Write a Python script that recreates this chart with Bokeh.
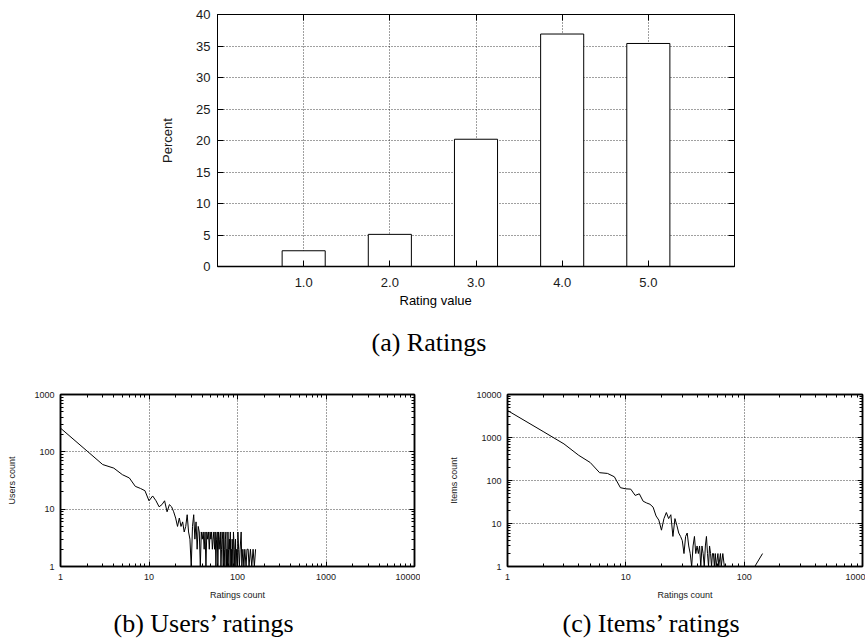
from bokeh.plotting import figure
from bokeh.models import FixedTicker, LinearAxis, LogAxis, Title, Range1d, CustomJSTickFormatter
from bokeh.layouts import column, row
from bokeh.embed import file_html
from bokeh.resources import INLINE

# ---------------- data ----------------
rating_values = [1, 2, 3, 4, 5]
rating_percent = [2.5, 5.1, 20.2, 36.9, 35.4]
rating_tick_labels = ["1.0", "2.0", "3.0", "4.0", "5.0"]
percent_ticks = [0, 5, 10, 15, 20, 25, 30, 35, 40]
percent_tick_labels = ["0", "5", "10", "15", "20", "25", "30", "35", "40"]

users_x = [1, 2, 3, 4, 5, 6, 7, 8, 9, 10, 11, 12, 13, 14, 15, 16, 17, 18, 19, 20,
           21, 22, 23, 24, 25, 26, 27, 28, 29, 30, 31, 32, 33, 34, 35, 36, 37, 38, 39, 40,
           41, 42, 43, 44, 45, 46, 47, 48, 49, 50, 51, 52, 53, 54, 55, 56, 57, 58, 59, 60,
           61, 62, 63, 64, 65, 66, 67, 68, 69, 70, 71, 72, 73, 74, 75, 76, 77, 78, 79, 80,
           81, 82, 83, 84, 85, 86, 87, 88, 89, 90, 92, 93, 95, 96, 98, 100, 101, 103, 105, 107,
           110, 112, 115, 118, 121, 125, 128, 132, 135, 140, 145, 150, 155, 160]
users_y = [259, 103, 60, 52, 40, 35, 25, 23, 21, 14, 17, 14, 11, 12, 14, 9, 12, 11, 9, 7,
           5, 7, 5, 6, 4, 5, 8, 4, 3, 1, 5, 8, 3, 6, 2, 5, 4, 1, 4, 3,
           4, 2, 4, 1, 4, 3, 4, 2, 4, 3, 4, 2, 3, 4, 2, 4, 1, 3, 4, 1,
           4, 2, 3, 4, 1, 2, 4, 3, 1, 4, 2, 1, 3, 4, 1, 2, 1, 4, 2, 1,
           3, 2, 4, 1, 2, 1, 3, 2, 1, 4, 2, 1, 3, 1, 2, 1, 4, 2, 1, 2,
           4, 1, 2, 1, 2, 1, 2, 2, 1, 2, 1, 2, 1, 2]

items_x = [1, 2, 3, 4, 5, 6, 7, 8, 9, 10, 11, 12, 13, 14, 15, 16, 17, 18, 19, 20,
           21, 22, 23, 24, 25, 26, 27, 28, 29, 30, 31, 32, 33, 34, 35, 36, 37, 38, 39, 40,
           41, 42, 43, 44, 45, 46, 47, 48, 49, 50, 51, 52, 53, 54, 55, 56, 57, 58, 60, 61,
           63, 64, 66, 68, 70, 123, 143]
items_y = [4245, 1380, 710, 385, 262, 152, 146, 122, 68, 64, 63, 45, 49, 33, 30, 28, 24, 15, 12, 7,
           13, 18, 13, 16, 5, 13, 9, 6, 5, 4, 2, 5, 6, 3, 2, 1, 3, 5, 2, 3,
           2, 3, 1, 3, 2, 1, 3, 5, 2, 1, 3, 2, 1, 2, 2, 1, 2, 1, 2, 1,
           2, 1, 2, 1, 1, 1, 2]

users_xticks = [1, 10, 100, 1000, 10000]
users_xtick_labels = ["1", "10", "100", "1000", "10000"]
users_yticks = [1, 10, 100, 1000]
users_ytick_labels = ["1", "10", "100", "1000"]
items_xticks = [1, 10, 100, 1000]
items_xtick_labels = ["1", "10", "100", "1000"]
items_yticks = [1, 10, 100, 1000, 10000]
items_ytick_labels = ["1", "10", "100", "1000", "10000"]

SANS = "Liberation Sans"
SERIF = "Liberation Serif"
TXT = "#1a1a1a"


def minor_for(decades):
    out = []
    for d in decades[:-1]:
        for m in range(2, 10):
            out.append(d * m)
    return out


def style_axis(ax, size, major_in, minor_in, standoff, label_standoff, width=1):
    ax.major_tick_in = major_in
    ax.major_tick_out = 0
    ax.minor_tick_in = minor_in
    ax.minor_tick_out = 0
    ax.axis_line_color = "black"
    ax.axis_line_width = width
    ax.major_tick_line_color = "black"
    ax.minor_tick_line_color = "black"
    ax.major_label_text_font = SANS
    ax.major_label_text_font_size = size
    ax.major_label_text_color = TXT
    ax.major_label_standoff = standoff
    ax.axis_label_text_font = SANS
    ax.axis_label_text_font_size = size
    ax.axis_label_text_font_style = "normal"
    ax.axis_label_text_color = TXT
    ax.axis_label_standoff = label_standoff


def add_mirror(p, side, cls, ticks, minor, major_in, minor_in, width=1):
    ax = cls(ticker=FixedTicker(ticks=ticks, minor_ticks=minor),
             formatter=CustomJSTickFormatter(code="return ''"))
    ax.major_tick_in = major_in
    ax.major_tick_out = 0
    ax.minor_tick_in = minor_in
    ax.minor_tick_out = 0
    ax.major_label_text_font_size = "1px"
    ax.major_label_standoff = 0
    ax.axis_line_color = "black"
    ax.axis_line_width = width
    ax.major_tick_line_color = "black"
    ax.minor_tick_line_color = "black"
    p.add_layout(ax, side)


def style_fig(p, width=1):
    p.outline_line_color = "black"
    p.outline_line_width = width
    p.background_fill_color = "white"
    p.border_fill_color = "white"
    for g in (p.xgrid[0], p.ygrid[0]):
        g.grid_line_color = "black"
        g.grid_line_dash = "1 2"
        g.grid_line_width = 1
        g.grid_line_alpha = 0.75


def add_text_below(p, text, offset, font, size, standoff):
    t = Title(text=text, align="left", offset=offset, standoff=standoff,
              vertical_align="bottom", text_font=font, text_font_size=size,
              text_font_style="normal", text_color="black")
    p.add_layout(t, "below")


# ---------------- (a) Ratings ----------------
pa = figure(frame_width=517, frame_height=252,
            min_border_left=217, min_border_right=131, min_border_top=14, min_border_bottom=112,
            x_range=Range1d(0, 6), y_range=Range1d(0, 40),
            output_backend="svg", toolbar_location=None)
style_fig(pa)
pa.vbar(x=rating_values, top=rating_percent, width=0.5,
        fill_color="white", line_color="black", line_width=1)

pa.xaxis.ticker = FixedTicker(ticks=rating_values, minor_ticks=[])
pa.xaxis.major_label_overrides = {v: s for v, s in zip(rating_values, rating_tick_labels)}
pa.yaxis.ticker = FixedTicker(ticks=percent_ticks, minor_ticks=[])
pa.yaxis.major_label_overrides = {v: s for v, s in zip(percent_ticks, percent_tick_labels)}
pa.xgrid.ticker = FixedTicker(ticks=rating_values)
pa.ygrid.ticker = FixedTicker(ticks=percent_ticks)
pa.yaxis.axis_label = "Percent"
style_axis(pa.xaxis[0], "13px", 6, 0, 11, 4, width=1.5)
style_axis(pa.yaxis[0], "13px", 6, 0, 7, 18)
add_mirror(pa, "above", LinearAxis, rating_values, [], 6, 0)
add_mirror(pa, "right", LinearAxis, percent_ticks, [], 6, 0)
add_text_below(pa, "Rating value", 182, SANS, "13px", 2)
add_text_below(pa, "(a) Ratings", 154, SERIF, "26px", 34)

# ---------------- (b) Users' ratings ----------------
pb = figure(frame_width=354, frame_height=172,
            min_border_left=60, min_border_right=6, min_border_top=16, min_border_bottom=75,
            x_axis_type="log", y_axis_type="log",
            x_range=Range1d(1, 10000), y_range=Range1d(1, 1000),
            output_backend="svg", toolbar_location=None)
style_fig(pb, 1.5)
pb.line(x=users_x, y=users_y, line_color="black", line_width=1)
ub_xminor = minor_for(users_xticks)
ub_yminor = minor_for(users_yticks)
pb.xaxis.ticker = FixedTicker(ticks=users_xticks, minor_ticks=ub_xminor)
pb.xaxis.major_label_overrides = {v: s for v, s in zip(users_xticks, users_xtick_labels)}
pb.yaxis.ticker = FixedTicker(ticks=users_yticks, minor_ticks=ub_yminor)
pb.yaxis.major_label_overrides = {v: s for v, s in zip(users_yticks, users_ytick_labels)}
pb.xgrid.ticker = FixedTicker(ticks=users_xticks)
pb.ygrid.ticker = FixedTicker(ticks=users_yticks)
pb.xaxis.axis_label = "Ratings count"
pb.yaxis.axis_label = "Users count"
style_axis(pb.xaxis[0], "9px", 5, 3, 7, 7, width=1.5)
style_axis(pb.yaxis[0], "9px", 5, 3, 6, 14, width=1.5)
add_mirror(pb, "above", LogAxis, users_xticks, ub_xminor, 5, 3, 1.5)
add_mirror(pb, "right", LogAxis, users_yticks, ub_yminor, 5, 3, 1.5)
add_text_below(pb, "(b) Users’ ratings", 53, SERIF, "26px", 9)

# ---------------- (c) Items' ratings ----------------
pc = figure(frame_width=355, frame_height=172,
            min_border_left=87, min_border_right=3, min_border_top=16, min_border_bottom=75,
            x_axis_type="log", y_axis_type="log",
            x_range=Range1d(1, 1000), y_range=Range1d(1, 10000),
            output_backend="svg", toolbar_location=None)
style_fig(pc, 1.5)
pc.line(x=items_x, y=items_y, line_color="black", line_width=1)
ic_xminor = minor_for(items_xticks)
ic_yminor = minor_for(items_yticks)
pc.xaxis.ticker = FixedTicker(ticks=items_xticks, minor_ticks=ic_xminor)
pc.xaxis.major_label_overrides = {v: s for v, s in zip(items_xticks, items_xtick_labels)}
pc.yaxis.ticker = FixedTicker(ticks=items_yticks, minor_ticks=ic_yminor)
pc.yaxis.major_label_overrides = {v: s for v, s in zip(items_yticks, items_ytick_labels)}
pc.xgrid.ticker = FixedTicker(ticks=items_xticks)
pc.ygrid.ticker = FixedTicker(ticks=items_yticks)
pc.xaxis.axis_label = "Ratings count"
pc.yaxis.axis_label = "Items count"
style_axis(pc.xaxis[0], "9px", 5, 3, 7, 7, width=1.5)
style_axis(pc.yaxis[0], "9px", 5, 3, 6, 14, width=1.5)
add_mirror(pc, "above", LogAxis, items_xticks, ic_xminor, 5, 3, 1.5)
add_mirror(pc, "right", LogAxis, items_yticks, ic_yminor, 5, 3, 1.5)
add_text_below(pc, "(c) Items’ ratings", 55, SERIF, "26px", 9)

layout = column(pa, row(pb, pc))
open("out.html", "w").write(file_html(layout, INLINE))
